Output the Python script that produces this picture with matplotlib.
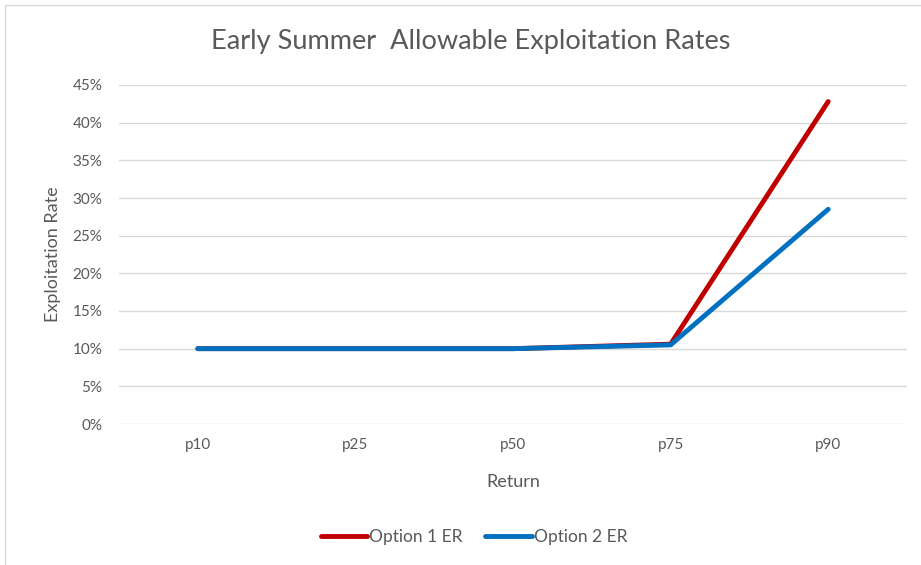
import matplotlib
matplotlib.use("Agg")
import matplotlib.pyplot as plt
from matplotlib.patches import Rectangle
from matplotlib.ticker import FuncFormatter

categories = ["p10", "p25", "p50", "p75", "p90"]
option1_er = [10.0, 10.0, 10.0, 10.6, 42.8]
option2_er = [10.0, 10.0, 10.0, 10.5, 28.5]
y_ticks = [0, 5, 10, 15, 20, 25, 30, 35, 40, 45]

plt.rcParams['font.family'] = ['Lato', 'DejaVu Sans']
text_color = "#595959"

fig = plt.figure(figsize=(9.21, 5.65), dpi=100)
fig.patch.set_facecolor("white")
fig.patches.append(Rectangle((5 / 921, -0.01), 1.2, 1 - 5 / 565 + 0.01,
                             transform=fig.transFigure, fill=False,
                             edgecolor="#d9d9d9", linewidth=1.0))

ax = fig.add_axes([119 / 921, (565 - 424) / 565, (907 - 119) / 921, (424 - 85) / 565])
x = list(range(len(categories)))
ax.plot(x, option1_er, color="#c00000", linewidth=3.5, solid_capstyle="round",
        label="Option 1 ER", zorder=3)
ax.plot(x, option2_er, color="#0070c0", linewidth=3.5, solid_capstyle="round",
        label="Option 2 ER", zorder=4)

ax.set_xlim(-0.5, len(categories) - 0.5)
ax.set_ylim(0, 45)
ax.set_yticks(y_ticks)
ax.yaxis.set_major_formatter(FuncFormatter(lambda v, p: f"{v:.0f}%"))
ax.set_xticks(x)
ax.set_xticklabels(categories)
ax.grid(axis="y", color="#d9d9d9", linewidth=1.0)
ax.set_axisbelow(True)
for s in ax.spines.values():
    s.set_visible(False)
ax.tick_params(axis="both", length=0, colors=text_color, labelsize=11)
ax.tick_params(axis="y", pad=12)
ax.tick_params(axis="x", pad=10)

ax.set_xlabel("Return", color=text_color, fontsize=13, labelpad=16)
ax.set_ylabel("Exploitation Rate", color=text_color, fontsize=13, labelpad=8)

fig.text(471 / 921, 1 - 42 / 565, "Early Summer  Allowable Exploitation Rates",
         ha="center", va="center", fontsize=19.5, color=text_color)

leg = fig.legend(loc="center", bbox_to_anchor=(474 / 921, 1 - 537 / 565), ncol=2,
                 frameon=False, fontsize=12.5, handlelength=2.7, handletextpad=0.1,
                 columnspacing=1.3)
for t in leg.get_texts():
    t.set_color(text_color)

fig.savefig("out.png", dpi=100, facecolor="white")
